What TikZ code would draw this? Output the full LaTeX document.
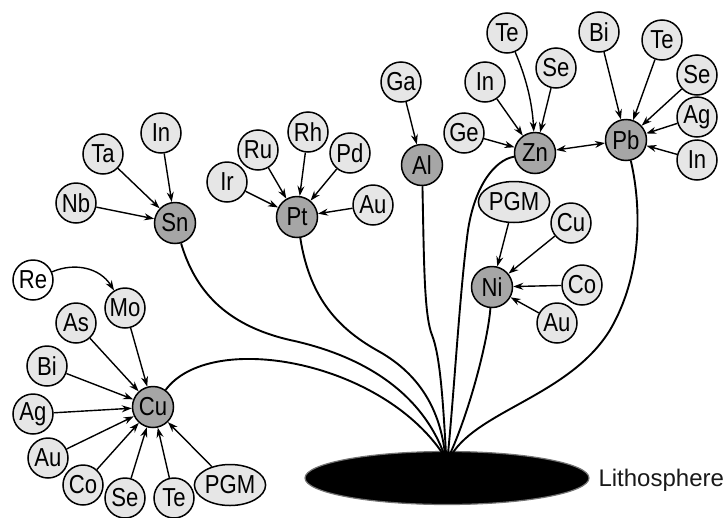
\documentclass[tikz,border=0pt]{standalone}
\usepackage{fontspec}
\setmainfont{Liberation Sans}
\newfontfamily\nodefont{Liberation Sans}[FakeStretch=0.85]
\usetikzlibrary{arrows.meta,shapes.geometric}
\definecolor{minor}{HTML}{E6E6E6}
\definecolor{major}{HTML}{A6A6A6}
\begin{document}
\begin{tikzpicture}[x=1pt,y=-1pt,
  el/.style={circle,draw=black,line width=1.5pt,fill=minor,minimum size=40pt,inner sep=0pt,
    font=\nodefont\fontsize{26}{26}\selectfont},
  mainel/.style={el,fill=major,minimum size=41pt},
  whiteel/.style={el,fill=white},
  pgmel/.style={el,ellipse,minimum width=62pt,minimum height=41pt},
  arr/.style={-{Stealth[length=10pt,width=7pt]},line width=1.4pt},
  darr/.style={{Stealth[length=10pt,width=7pt]}-{Stealth[length=10pt,width=7pt]},line width=1.4pt},
  trunk/.style={line width=1.9pt}
]
\useasboundingbox (0,0) rectangle (723,517);

% Lithosphere
\node[ellipse,fill=black,draw=black!55,line width=1.2pt,minimum width=284pt,minimum height=53pt] (litho) at (447,478) {};
\node[anchor=west,font=\fontsize{24}{24}\selectfont,text=black!90] (lab) at (595,480) {Lithosphere};

% Cu cluster
\node[mainel] (Cu) at (153,407) {Cu};
\node[whiteel] (Re) at (33,280) {Re};
\node[el] (Mo) at (125,308) {Mo};
\node[el] (AsC) at (76,323) {As};
\node[el] (BiC) at (47,366) {Bi};
\node[el] (AgC) at (33,414) {Ag};
\node[el] (AuC) at (48,458) {Au};
\node[el] (CoC) at (83,485) {Co};
\node[el] (SeC) at (125,498) {Se};
\node[el] (TeC) at (174,498) {Te};
\node[pgmel] (PGMC) at (230,485) {PGM};

% Sn cluster
\node[mainel] (Sn) at (175,223) {Sn};
\node[el] (InS) at (161,133) {In};
\node[el] (TaS) at (103,154) {Ta};
\node[el] (NbS) at (76,203) {Nb};

% Pt cluster
\node[mainel] (Pt) at (297,217) {Pt};
\node[el] (IrP) at (227,182) {Ir};
\node[el] (RuP) at (258,150) {Ru};
\node[el] (RhP) at (308,132) {Rh};
\node[el] (PdP) at (350,153) {Pd};
\node[el] (AuP) at (373,205) {Au};

% Al
\node[mainel] (Al) at (422,165) {Al};
\node[el] (GaA) at (401,82) {Ga};

% Zn cluster
\node[mainel] (Zn) at (535,153) {Zn};
\node[el] (TeZ) at (507,33) {Te};
\node[el] (SeZ) at (556,68) {Se};
\node[el] (InZ) at (485,82) {In};
\node[el] (GeZ) at (464,133) {Ge};

% Pb cluster
\node[mainel] (Pb) at (626,140) {Pb};
\node[el] (BiB) at (599,32) {Bi};
\node[el] (TeB) at (662,40) {Te};
\node[el] (SeB) at (697,75) {Se};
\node[el] (AgB) at (697,117) {Ag};
\node[el] (InB) at (697,160) {In};

% Ni cluster
\node[mainel] (Ni) at (492,287) {Ni};
\node[pgmel] (PGMN) at (514,202) {PGM};
\node[el] (CuN) at (571,223) {Cu};
\node[el] (CoN) at (582,285) {Co};
\node[el] (AuN) at (557,323) {Au};

% arrows
\draw[arr] (Re) .. controls (75,262) and (100,268) .. (Mo);
\foreach \s in {Mo,AsC,BiC,AgC,AuC,CoC,SeC,TeC,PGMC} \draw[arr] (\s) -- (Cu);
\foreach \s in {InS,TaS,NbS} \draw[arr] (\s) -- (Sn);
\foreach \s in {IrP,RuP,RhP,PdP,AuP} \draw[arr] (\s) -- (Pt);
\draw[arr] (GaA) -- (Al);
\draw[arr] (TeZ) .. controls (525,75) and (532,100) .. (Zn);
\foreach \s in {SeZ,InZ,GeZ} \draw[arr] (\s) -- (Zn);
\foreach \s in {BiB,TeB,SeB,AgB,InB} \draw[arr] (\s) -- (Pb);
\draw[darr] (Zn) -- (Pb);
\foreach \s in {PGMN,CuN,CoN,AuN} \draw[arr] (\s) -- (Ni);

% trunks
\coordinate (bCu) at (443,454);
\coordinate (bSn) at (444,454);
\coordinate (bPt) at (445,454);
\coordinate (bAl) at (446,454);
\coordinate (bZn) at (448,454);
\coordinate (bNi) at (450,454);
\coordinate (bPb) at (452,454);
\draw[trunk] (Cu) .. controls (210,330) and (380,360) .. (bCu);
\draw[trunk] (Sn) .. controls (195,290) and (225,325) .. (290,340) .. controls (360,355) and (420,390) .. (bSn);
\draw[trunk] (Pt) .. controls (310,300) and (340,330) .. (380,352) .. controls (420,375) and (440,410) .. (bPt);
\draw[trunk] (Al) .. controls (424,260) and (424,315) .. (432,335) .. controls (440,355) and (443,400) .. (bAl);
\draw[trunk] (Zn) .. controls (495,160) and (475,185) .. (468,230) .. controls (460,290) and (455,380) .. (bZn);
\draw[trunk] (Ni) .. controls (488,340) and (470,410) .. (bNi);
\draw[trunk] (Pb) .. controls (640,200) and (645,270) .. (610,330) .. controls (570,395) and (480,410) .. (bPb);
\end{tikzpicture}
\end{document}
